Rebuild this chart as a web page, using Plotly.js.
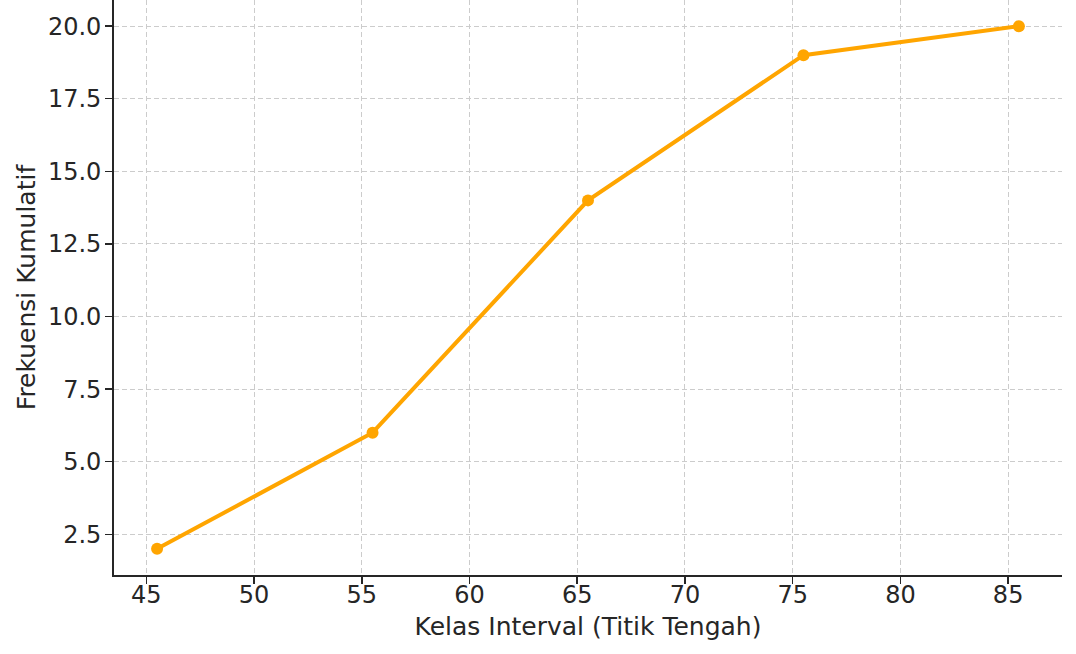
<!DOCTYPE html>
<html>
<head>
<meta charset="utf-8">
<script src="https://cdn.plot.ly/plotly-3.0.1.min.js"></script>
<style>html,body{margin:0;padding:0;background:#fff;}#chart{width:1076px;height:654px;}</style>
</head>
<body>
<div id="chart"></div>
<script>
const midpoints = [45.5, 55.5, 65.5, 75.5, 85.5];
const cumulativeFreq = [2, 6, 14, 19, 20];
const xTicks = [45, 50, 55, 60, 65, 70, 75, 80, 85];
const yTicks = [2.5, 5.0, 7.5, 10.0, 12.5, 15.0, 17.5, 20.0];
const xTitle = "Kelas Interval (Titik Tengah)";
const yTitle = "Frekuensi Kumulatif";

const trace = {
  x: midpoints,
  y: cumulativeFreq,
  type: 'scatter',
  mode: 'lines+markers',
  line: {color: '#FFA500', width: 4},
  marker: {color: '#FFA500', size: 12},
  hoverinfo: 'none'
};

const axisCommon = {
  showline: true,
  linecolor: '#262626',
  linewidth: 1.8,
  ticks: 'outside',
  ticklen: 7,
  tickwidth: 1.5,
  tickcolor: '#262626',
  showgrid: true,
  gridcolor: '#cccccc',
  gridwidth: 1,
  griddash: '5px,3px',
  zeroline: false,
  mirror: false,
  tickfont: {family: 'DejaVu Sans', size: 24, color: '#262626'}
};

const layout = {
  width: 1076,
  height: 654,
  margin: {l: 114, r: 14, t: 0, b: 79},
  paper_bgcolor: '#ffffff',
  plot_bgcolor: '#ffffff',
  showlegend: false,
  xaxis: Object.assign({}, axisCommon, {
    range: [43.5, 87.5],
    tickvals: xTicks,
    ticktext: xTicks.map(v => String(v)),
    ticklabelstandoff: -10,
    title: {text: xTitle, font: {family: 'DejaVu Sans', size: 25, color: '#262626'}, standoff: 10}
  }),
  yaxis: Object.assign({}, axisCommon, {
    range: [1.1, 20.9],
    tickvals: yTicks,
    ticktext: yTicks.map(v => v.toFixed(1)),
    ticklabelstandoff: -1,
    title: {text: yTitle, font: {family: 'DejaVu Sans', size: 25, color: '#262626'}, standoff: 5}
  })
};

Plotly.newPlot('chart', [trace], layout, {displayModeBar: false, staticPlot: true});
</script>
</body>
</html>
